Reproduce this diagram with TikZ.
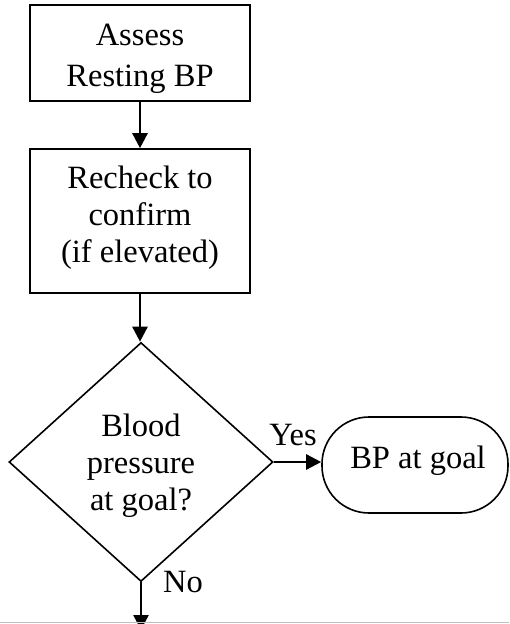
\documentclass[tikz,border=0pt]{standalone}
\usepackage{fontspec}
\setmainfont{Liberation Serif}
\usetikzlibrary{shapes.geometric,arrows.meta}
\begin{document}
\begin{tikzpicture}[x=1pt,y=-1pt,
  txt/.style={font=\fontsize{32.5}{37}\selectfont},
  box/.style={draw,line width=1.6pt,minimum width=220pt,inner sep=0pt},
  decision/.style={draw,diamond,line width=1.6pt,minimum width=264pt,minimum height=239pt,inner sep=0pt},
  terminal/.style={draw,line width=1.6pt,rounded corners=47pt,minimum width=186pt,minimum height=96pt,inner sep=0pt},
  body/.style={txt,inner sep=0pt,align=center,anchor=base},
  flow/.style={line width=2.5pt,-{Triangle[length=15pt,width=15pt]}},
  lbl/.style={txt,inner sep=0pt,anchor=base}]
\useasboundingbox (0,0) rectangle (509,624);
\node[box,minimum height=96pt] (assess) at (140,53) {};
\node[box,minimum height=144pt] (recheck) at (140,221) {};
\node[decision] (dec) at (141,462) {};
\node[terminal] (goal) at (415,465) {};
\node[body,font=\fontsize{32.5}{41}\selectfont] (t1) at (140,86) {Assess\\Resting BP};
\node[body] (t2) at (140,262) {Recheck to\\confirm\\(if elevated)};
\node[body] (t3) at (141,510) {Blood\\pressure\\at goal?};
\node[body] (t4) at (418,468) {BP at goal};
\coordinate (out) at (141,630);
\draw[flow] (assess) -- (recheck);
\draw[flow] (recheck.south) -- (recheck.south |- dec.north);
\draw[flow] (dec.east) -- (dec.east -| goal.west);
\draw[flow] (dec.south) -- (out);
\node[lbl] (yes) at (293,445) {Yes};
\node[lbl] (no) at (183,592) {No};
\draw[gray!50,line width=1pt] (0,622.5) -- (509,622.5);
\end{tikzpicture}
\end{document}
